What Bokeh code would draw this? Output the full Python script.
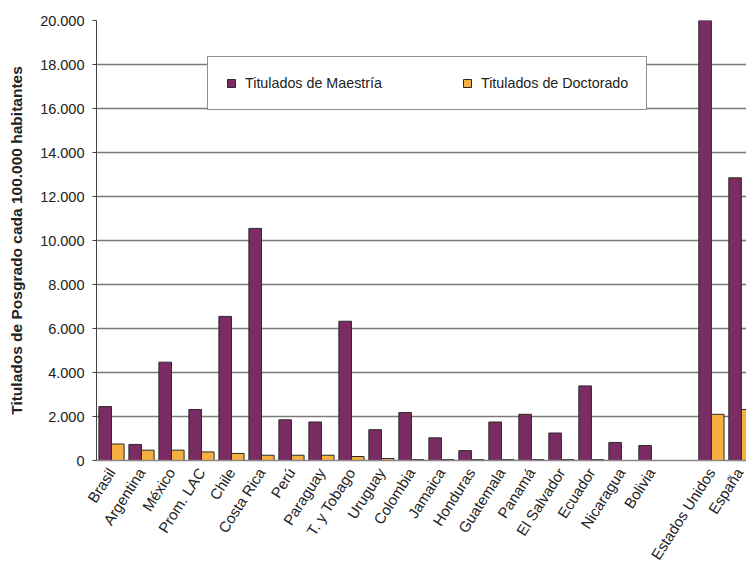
from bokeh.plotting import figure
from bokeh.models import Range1d, FixedTicker, Legend, LegendItem, ColumnDataSource
from bokeh.embed import file_html
from bokeh.resources import INLINE

# ---- data ----
latam = ["Brasil", "Argentina", "México", "Prom. LAC", "Chile", "Costa Rica", "Perú",
         "Paraguay", "T. y Tobago", "Uruguay", "Colombia", "Jamaica", "Honduras",
         "Guatemala", "Panamá", "El Salvador", "Ecuador", "Nicaragua", "Bolivia"]
latam_maestria = [2450, 730, 4470, 2320, 6550, 10550, 1850, 1750, 6330, 1400, 2180,
                  1030, 450, 1750, 2100, 1250, 3390, 820, 680]
latam_doctorado = [750, 470, 470, 390, 320, 240, 240, 240, 180, 90, 40, 40, 40, 40,
                   40, 40, 40, 0, 0]

ref = ["Estados Unidos", "España"]
ref_maestria = [20000, 12850]
ref_doctorado = [2100, 2320]

y_ticks = [0, 2000, 4000, 6000, 8000, 10000, 12000, 14000, 16000, 18000, 20000]
y_labels = ["0", "2.000", "4.000", "6.000", "8.000", "10.000", "12.000", "14.000",
            "16.000", "18.000", "20.000"]

# ---- positions (slot centers; one empty slot between the groups) ----
cats = latam + ref
centers = [i + 0.5 for i in range(len(latam))] + [len(latam) + 1 + i + 0.5 for i in range(len(ref))]
maestria = latam_maestria + ref_maestria
doctorado = latam_doctorado + ref_doctorado

bw = 0.42
src = ColumnDataSource(dict(
    xm=[c - bw / 2 for c in centers],
    xd=[c + bw / 2 for c in centers],
    m=maestria, d=doctorado))

FONT = "Liberation Sans"

p = figure(width=746, height=570, output_backend="svg", toolbar_location=None,
           x_range=Range1d(0, 21.67), y_range=Range1d(0, 20000),
           min_border_left=96, min_border_right=0, min_border_top=20, min_border_bottom=110)
p.outline_line_color = None
p.background_fill_color = "white"

rm = p.vbar(x="xm", top="m", width=bw, source=src, fill_color="#7B2D63",
            line_color="#2a2a2a", line_width=1)
rd = p.vbar(x="xd", top="d", width=bw, source=src, fill_color="#F6B042",
            line_color="#2a2a2a", line_width=1)

# y axis
yax = p.yaxis[0]
yax.ticker = FixedTicker(ticks=y_ticks)
yax.major_label_overrides = {t: l for t, l in zip(y_ticks, y_labels)}
yax.axis_label = "Titulados de Posgrado cada 100.000 habitantes"
yax.axis_label_text_font = FONT
yax.axis_label_text_font_style = "bold"
yax.axis_label_text_font_size = "15.5px"
yax.axis_label_text_color = "#222222"
yax.axis_label_standoff = 12
yax.major_label_text_font = FONT
yax.major_label_text_font_size = "14.5px"
yax.major_label_text_color = "#222222"
yax.major_tick_out = 4
yax.major_tick_in = 0
yax.minor_tick_out = 0
yax.minor_tick_in = 0
yax.major_label_standoff = 8
yax.axis_line_color = "#444444"
yax.major_tick_line_color = "#444444"

# x axis
xax = p.xaxis[0]
xax.ticker = FixedTicker(ticks=centers)
xax.major_label_overrides = {c: n for c, n in zip(centers, cats)}
xax.major_label_orientation = 1.0
xax.major_label_text_font = FONT
xax.major_label_text_font_size = "15px"
xax.major_label_text_color = "#222222"
xax.major_tick_out = 0
xax.major_tick_in = 0
xax.minor_tick_out = 0
xax.minor_tick_in = 0
xax.major_label_standoff = 9
xax.axis_line_color = "#888888"
xax.axis_line_width = 1.5

p.xgrid.grid_line_color = None
p.ygrid.ticker = FixedTicker(ticks=y_ticks)
p.ygrid.grid_line_color = "#7a7a7a"
p.ygrid.grid_line_width = 1.5

legend = Legend(items=[LegendItem(label="Titulados de Maestría", renderers=[rm]),
                       LegendItem(label="Titulados de Doctorado", renderers=[rd])],
                orientation="horizontal", location=(111, 350),
                border_line_color="#222222", border_line_width=1,
                background_fill_color="white", background_fill_alpha=1,
                padding=18, spacing=80, glyph_width=10, glyph_height=10,
                label_height=10, label_standoff=9,
                label_text_font=FONT, label_text_font_size="14.3px",
                label_text_color="#222222")
p.add_layout(legend, "center")

open("out.html", "w").write(file_html(p, INLINE))
